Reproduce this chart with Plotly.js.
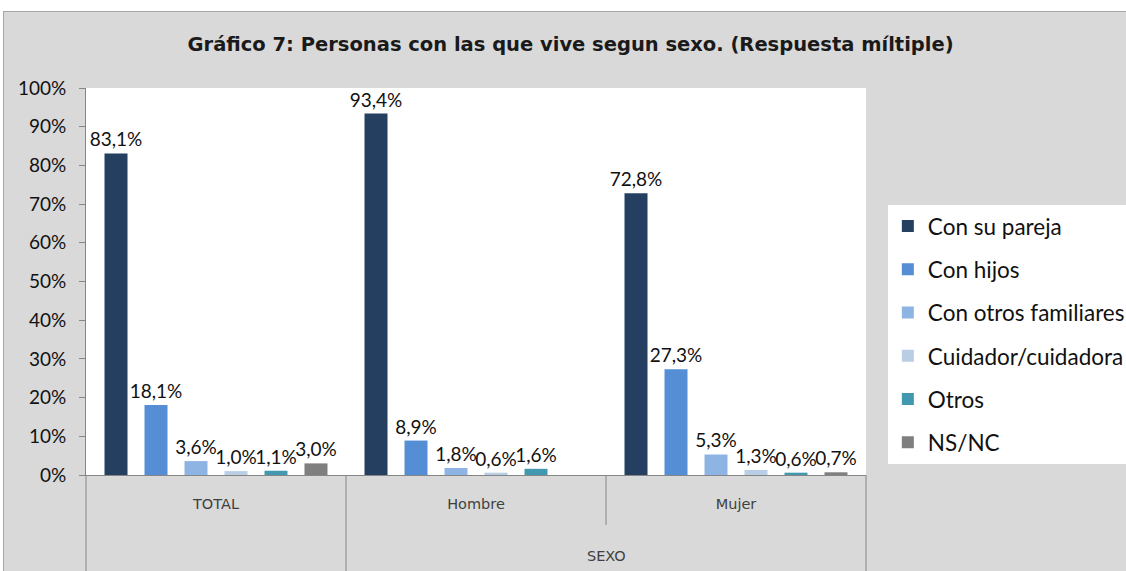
<!DOCTYPE html>
<html>
<head>
<meta charset="utf-8">
<script src="https://cdn.plot.ly/plotly-3.0.1.min.js"></script>
<style>
  html, body { margin: 0; padding: 0; background: #ffffff; overflow: hidden; }
  #frame { position: absolute; left: 3px; top: 11px; width: 1123px; height: 560px;
           border-top: 1px solid #a6a6a6; border-left: 1px solid #a6a6a6; background: #d9d9d9; overflow: hidden; }
  #chart { width: 1122px; height: 559px; }
</style>
</head>
<body>
<div id="frame"><div id="chart"></div></div>
<script>
// ---- data ----
const categories = ["TOTAL", "Hombre", "Mujer"];
const outerLabel = "SEXO";
const seriesNames = ["Con su pareja", "Con hijos", "Con otros familiares", "Cuidador/cuidadora", "Otros", "NS/NC"];
const conSuPareja = [83.1, 93.4, 72.8];
const conHijos = [18.1, 8.9, 27.3];
const conOtrosFamiliares = [3.6, 1.8, 5.3];
const cuidador = [1.0, 0.6, 1.3];
const otros = [1.1, 1.6, 0.6];
const nsnc = [3.0, null, 0.7];
const yTicks = [0, 10, 20, 30, 40, 50, 60, 70, 80, 90, 100];

const seriesValues = [conSuPareja, conHijos, conOtrosFamiliares, cuidador, otros, nsnc];
const colors = ["#243f60", "#558ed5", "#8eb4e3", "#b9cde5", "#4198af", "#7f7f7f"];

const traces = seriesNames.map((name, i) => ({
  type: "bar",
  name: name,
  x: categories,
  y: seriesValues[i],
  marker: { color: colors[i] },
  texttemplate: "%{y:.1f}%",
  textposition: "outside",
  constraintext: "none",
  cliponaxis: false,
  textfont: { family: "Lato, 'Open Sans', sans-serif", size: 19, color: "#111111" },
  legendgroup: "g" + i,
  hoverinfo: "x+y+name"
}));

const n = categories.length;
const shapes = [];
// x axis table lines (category boundaries)
for (let k = 0; k <= n; k++) {
  const isInner = (k === 2);
  shapes.push({
    type: "line", xref: "paper", yref: "paper",
    x0: k / n, x1: k / n, y0: 0, y1: isInner ? -0.129 : -0.26,
    line: { color: "#868686", width: 1 }
  });
}

const layout = {
  width: 1122, height: 559,
  paper_bgcolor: "#d9d9d9",
  plot_bgcolor: "#ffffff",
  separators: ",.",
  margin: { l: 82, r: 260, t: 76, b: 96, autoexpand: false },
  title: {
    text: "<b>Gráfico 7: Personas con las que vive segun sexo. (Respuesta míltiple)</b>",
    font: { family: "'DejaVu Sans', sans-serif", size: 19.5, color: "#1a1a1a" },
    xref: "container", x: 0.505, xanchor: "center",
    yref: "container", y: 0.943, yanchor: "middle"
  },
  barmode: "group",
  bargap: 0.077,
  bargroupgap: 0.425,
  xaxis: {
    type: "category",
    range: [-0.5, n - 0.5],
    showline: true, linecolor: "#868686", linewidth: 1,
    ticks: "", showgrid: false,
    tickfont: { family: "'DejaVu Sans', sans-serif", size: 14.5, color: "#404040" },
    ticklabelstandoff: 16,
    fixedrange: true
  },
  yaxis: {
    range: [0, 100],
    tickvals: yTicks,
    ticktext: yTicks.map(v => v + "%"),
    showline: true, linecolor: "#868686", linewidth: 1,
    ticks: "outside", ticklen: 6, tickcolor: "#868686",
    showgrid: false, zeroline: false,
    tickfont: { family: "Lato, 'Open Sans', sans-serif", size: 19, color: "#111111" },
    ticklabelstandoff: 9,
    fixedrange: true
  },
  legend: {
    x: 1.028, xanchor: "left",
    y: 0.6977, yanchor: "top",
    bgcolor: "#ffffff",
    borderwidth: 0,
    traceorder: "grouped",
    tracegroupgap: 11,
    font: { family: "Lato, 'Open Sans', sans-serif", size: 22.5, color: "#111111" }
  },
  annotations: [{
    xref: "paper", yref: "paper",
    x: ((1 + 2) / 2 + 0.5) / n, y: -0.2093,
    text: outerLabel, showarrow: false,
    font: { family: "'DejaVu Sans', sans-serif", size: 14.5, color: "#404040" },
    xanchor: "center", yanchor: "middle"
  }],
  shapes: shapes,
  showlegend: true
};

Plotly.newPlot("chart", traces, layout, { displayModeBar: false, staticPlot: true });
</script>
</body>
</html>
